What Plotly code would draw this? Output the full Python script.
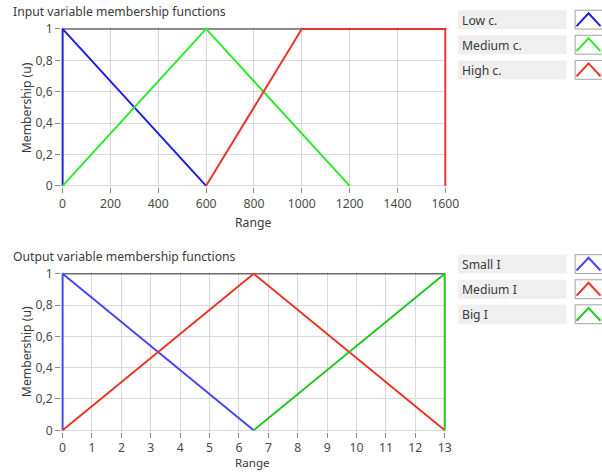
import plotly.graph_objects as go

W, H = 602, 474

# ---- data: input variable (range 0..1600) ----
in_names = ["Low c.", "Medium c.", "High c."]
in_colors = ["#1f1fe0", "#2bea2b", "#e8352b"]
in_x = [
    [0, 0, 600],
    [0, 600, 1200],
    [600, 1000, 1600, 1600],
]
in_y = [
    [0, 1, 0],
    [0, 1, 0],
    [0, 1, 1, 0],
]
in_xticks = [0, 200, 400, 600, 800, 1000, 1200, 1400, 1600]

# ---- data: output variable (range 0..13) ----
out_names = ["Small I", "Medium I", "Big I"]
out_colors = ["#4646f5", "#ea3524", "#25c525"]
out_x = [
    [0, 0, 6.5],
    [0, 6.5, 13],
    [6.5, 13, 13],
]
out_y = [
    [0, 1, 0],
    [0, 1, 0],
    [0, 1, 0],
]
out_xticks = list(range(0, 14))

y_ticks = [0, 0.2, 0.4, 0.6, 0.8, 1]
y_ticktext = ["0", "0,2", "0,4", "0,6", "0,8", "1"]

FONT = "Noto Sans"
FS = 12.2
TXT = "#3a3a3a"
TICK = "#4a4a4a"
GRID = "#d9d9d9"

# page placement of the figure canvas (scale and offset of the drawn page)
SXP, OXP = 0.98, 2.5
SYP, OYP = 0.967, 7.5


def px(x):
    """page x (pixels) -> paper fraction"""
    return ((x - OXP) / SXP) / W


def py(y):
    """page y (pixels) -> paper fraction"""
    return 1 - ((y - OYP) / SYP) / H


fig = go.Figure()

for names, colors, xs, ys, ax in [
    (in_names, in_colors, in_x, in_y, ("x", "y")),
    (out_names, out_colors, out_x, out_y, ("x2", "y2")),
]:
    for n, c, xv, yv in zip(names, colors, xs, ys):
        fig.add_trace(go.Scatter(
            x=xv, y=yv, name=n, mode="lines",
            line=dict(color=c, width=2),
            xaxis=ax[0], yaxis=ax[1], showlegend=False,
            hoverinfo="skip",
        ))

# plot rectangles (page pixels): left, right, top, bottom
top_box = (63.3, 447.3, 29.3, 185.7)
bot_box = (63.3, 446.7, 273.3, 429.3)


def axis_common():
    return dict(
        showgrid=True, gridcolor=GRID, gridwidth=1,
        zeroline=False, showline=False,
        ticks="outside", ticklen=5, tickcolor="#8a8a8a", tickwidth=1,
        tickfont=dict(family=FONT, size=FS, color=TICK),
    )


def pad_range(lo, hi, frac_span, frac_pad):
    span = hi - lo
    d = span / frac_span * frac_pad
    return [lo - d, hi + d]


layout = dict(
    width=W, height=H,
    margin=dict(l=0, r=0, t=0, b=0),
    paper_bgcolor="white", plot_bgcolor="white",
    showlegend=False,
)

PAD = 1.5
for i, (box, xmax, xt) in enumerate([(top_box, 1600, in_xticks), (bot_box, 13, out_xticks)]):
    l, r, t, b = box
    sx = "" if i == 0 else "2"
    xa = axis_common()
    x0, x1 = px(l), px(r)
    xp = px(l) - px(l - PAD)
    xa.update(domain=[x0 - xp, x1 + xp],
              range=pad_range(0, xmax, x1 - x0, xp),
              tickvals=xt, ticktext=[str(v) for v in xt],
              anchor="y" + sx)
    ya = axis_common()
    y0, y1 = py(b), py(t)
    yp = py(b - PAD) - py(b)
    ya.update(domain=[y0 - yp, y1 + yp],
              range=pad_range(0, 1, y1 - y0, yp),
              tickvals=y_ticks, ticktext=y_ticktext,
              anchor="x" + sx)
    layout["xaxis" + sx] = xa
    layout["yaxis" + sx] = ya

fig.update_layout(**layout)

shapes = []
annotations = []

# dark top frame line of each plot
for sx, xmax in [("", 1600), ("2", 13)]:
    shapes.append(dict(type="line", xref="x" + sx, yref="y" + sx,
                       x0=0, x1=xmax, y0=1, y1=1,
                       line=dict(color="#6a6a6a", width=1.5), layer="between"))


def label(text, x, y, xanchor="left", angle=0, size=FS):
    annotations.append(dict(text=text, xref="paper", yref="paper",
                            x=px(x), y=py(y), xanchor=xanchor, yanchor="middle",
                            textangle=angle, showarrow=False,
                            font=dict(family=FONT, size=size, color=TXT)))


# titles and axis labels
label("Input variable membership functions", 12, 12.3)
label("Output variable membership functions", 12, 256.5)
label("Range", 254, 222.5, "center")
label("Range", 254, 461.5, "center", size=11.6)
label("Membership (u)", 27, 108, "center", -90)
label("Membership (u)", 27, 351, "center", -90)

# legend panels
for names, colors, y0 in [(in_names, in_colors, 10.7), (out_names, out_colors, 254.3)]:
    for k, (n, c) in enumerate(zip(names, colors)):
        top = y0 + k * 25
        bot = top + 18.8
        shapes.append(dict(type="rect", xref="paper", yref="paper",
                           x0=px(460), x1=px(569), y0=py(bot), y1=py(top),
                           fillcolor="#efefef", line=dict(width=0)))
        label(n, 462, (top + bot) / 2 + 0.5)
        shapes.append(dict(type="rect", xref="paper", yref="paper",
                           x0=px(577.5), x1=px(640), y0=py(bot), y1=py(top),
                           fillcolor="white", line=dict(color="#a0a0a0", width=1)))
        path = "M {:.5f},{:.5f} L {:.5f},{:.5f} L {:.5f},{:.5f}".format(
            px(579), py(bot - 3), px(591), py(top + 3), px(603), py(bot - 3))
        shapes.append(dict(type="path", xref="paper", yref="paper", path=path,
                           line=dict(color=c, width=2)))

fig.update_layout(shapes=shapes, annotations=annotations)

fig.write_html("out.html")
